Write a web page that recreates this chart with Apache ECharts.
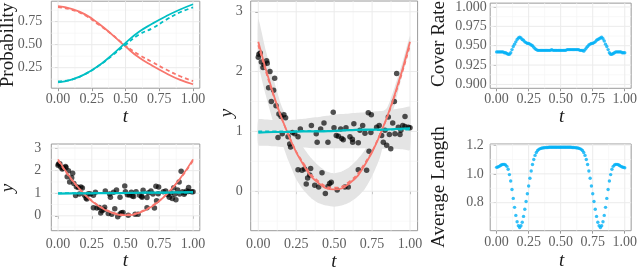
<!DOCTYPE html>
<html><head><meta charset="utf-8">
<script src="https://cdn.jsdelivr.net/npm/echarts@6/dist/echarts.min.js"></script>
<style>html,body{margin:0;padding:0;background:#fff}#c{width:640px;height:268px}</style>
</head><body><div id="c"></div>
<script>
// ---------- data ----------
const xTicks = [0, 0.25, 0.5, 0.75, 1];
const xMinor = [0.125, 0.375, 0.625, 0.875];
const probTicks = [0.25, 0.5, 0.75];
const probMinor = [0.125, 0.375, 0.625, 0.875];
const yTicks = [0, 1, 2, 3];
const yMinor = [-0.5, 0.5, 1.5, 2.5];
const coverTicks = [0.9, 0.925, 0.95, 0.975, 1.0];
const coverMinor = [0.9125, 0.9375, 0.9625, 0.9875];
const lenTicks = [0.8, 1.0, 1.2];
const lenMinor = [0.7, 0.9, 1.1];

const probT = [0, 0.1, 0.2, 0.3, 0.4, 0.5, 0.6, 0.7, 0.8, 0.9, 1.0];
const probRedSolid  = [0.92, 0.89, 0.83, 0.73, 0.61, 0.48, 0.36, 0.27, 0.19, 0.12, 0.07];
const probRedDashed = [0.91, 0.88, 0.82, 0.72, 0.61, 0.49, 0.39, 0.31, 0.23, 0.16, 0.105];
const probTealSolid = [0.09, 0.12, 0.18, 0.27, 0.39, 0.52, 0.64, 0.73, 0.81, 0.88, 0.94];
const probTealDashed= [0.10, 0.12, 0.18, 0.27, 0.38, 0.50, 0.61, 0.68, 0.77, 0.85, 0.905];

const pointsT = [0.000,0.004,0.013,0.020,0.031,0.038,0.055,0.059,0.068,0.077,0.086,0.101,0.108,0.117,0.130,0.136,0.150,0.158,0.169,0.180,
  0.196,0.207,0.213,0.225,0.240,0.262,0.277,0.262,0.288,0.305,0.316,0.325,0.339,0.345,0.350,0.372,0.382,0.388,0.398,0.411,
  0.420,0.433,0.442,0.459,0.459,0.470,0.481,0.494,0.499,0.514,0.520,0.528,0.543,0.550,0.560,0.571,0.578,0.593,0.604,0.620,
  0.622,0.630,0.659,0.659,0.670,0.688,0.703,0.714,0.725,0.730,0.745,0.742,0.780,0.797,0.813,0.824,0.835,0.846,0.857,0.864,
  0.873,0.886,0.897,0.901,0.912,0.923,0.934,0.940,0.952,0.967,0.967,0.989,1.000];
const pointsY = [2.24,2.29,2.31,2.16,2.07,2.12,2.18,2.14,1.73,2.00,1.50,1.69,1.89,1.43,0.90,1.29,1.25,0.96,1.28,1.23,
  0.91,0.79,0.74,0.98,0.96,0.91,1.04,0.36,0.35,0.37,0.12,0.22,0.27,0.38,1.10,0.10,0.96,0.82,0.07,1.04,
  0.31,1.14,-0.04,0.08,0.82,0.13,0.15,1.32,1.06,0.93,0.02,0.92,1.04,0.88,0.86,0.07,1.06,0.07,0.91,0.87,
  0.82,1.13,0.81,0.36,1.02,1.10,0.97,0.35,1.31,0.67,1.28,0.98,1.07,1.10,0.93,0.82,1.02,0.77,1.24,0.95,
  0.71,1.14,1.50,0.96,1.97,1.07,0.95,1.02,1.10,1.25,1.08,1.07,1.06];

const fitT = [0, 0.1, 0.2, 0.3, 0.4, 0.5, 0.6, 0.7, 0.8, 0.9, 1.0];
const fitRedSolid  = [2.50, 1.62, 0.93, 0.43, 0.13, 0.03, 0.13, 0.43, 0.93, 1.62, 2.50];
const fitRedDashed = [2.44, 1.60, 0.94, 0.46, 0.16, 0.06, 0.16, 0.46, 0.94, 1.60, 2.44];
const fitTealSolid = [0.98, 0.99, 0.99, 1.00, 1.00, 1.01, 1.02, 1.03, 1.03, 1.04, 1.05];
const fitTealDashed= [1.00, 1.00, 1.00, 1.01, 1.01, 1.01, 1.02, 1.02, 1.02, 1.03, 1.03];

const bandT = [0,0.05,0.1,0.15,0.2,0.25,0.3,0.35,0.4,0.45,0.5,0.55,0.6,0.65,0.7,0.75,0.8,0.85,0.9,0.95,1.0];
const bandRedLo = [2.15,1.60,1.15,0.85,0.50,0.20,0.01,-0.12,-0.20,-0.24,-0.26,-0.24,-0.19,-0.10,0.03,0.25,0.55,1.05,1.45,1.95,2.40];
const bandRedHi = [2.88,2.35,1.88,1.45,1.15,0.90,0.72,0.55,0.42,0.33,0.30,0.33,0.40,0.52,0.68,0.95,1.28,1.40,1.75,2.15,2.60];
const bandTealLo = [0.77,0.76,0.75,0.74,0.74,0.73,0.73,0.72,0.72,0.72,0.72,0.72,0.72,0.72,0.72,0.72,0.71,0.71,0.71,0.70,0.69];
const bandTealHi = [1.20,1.20,1.19,1.19,1.19,1.20,1.21,1.23,1.24,1.26,1.28,1.29,1.30,1.31,1.32,1.33,1.34,1.35,1.37,1.39,1.41];

const gridT = [0,0.01,0.02,0.03,0.04,0.05,0.06,0.07,0.08,0.09,0.1,0.11,0.12,0.13,0.14,0.15,0.16,0.17,0.18,0.19,
  0.2,0.21,0.22,0.23,0.24,0.25,0.26,0.27,0.28,0.29,0.3,0.31,0.32,0.33,0.34,0.35,0.36,0.37,0.38,0.39,
  0.4,0.41,0.42,0.43,0.44,0.45,0.46,0.47,0.48,0.49,0.5,0.51,0.52,0.53,0.54,0.55,0.56,0.57,0.58,0.59,
  0.6,0.61,0.62,0.63,0.64,0.65,0.66,0.67,0.68,0.69,0.7,0.71,0.72,0.73,0.74,0.75,0.76,0.77,0.78,0.79,
  0.8,0.81,0.82,0.83,0.84,0.85,0.86,0.87,0.88,0.89,0.9,0.91,0.92,0.93,0.94,0.95,0.96,0.97,0.98,0.99,1.0];
const coverRate = [
  0.942,0.942,0.942,0.942,0.942,0.942,0.941,0.941,0.940,0.939,
  0.939,0.941,0.945,0.949,0.952,0.955,0.958,0.960,0.961,0.960,
  0.958,0.957,0.955,0.954,0.953,0.953,0.952,0.951,0.950,0.948,
  0.946,0.945,0.944,0.944,0.944,0.944,0.944,0.944,0.944,0.944,
  0.944,0.944,0.944,0.945,0.944,0.944,0.944,0.944,0.944,0.944,
  0.944,0.944,0.944,0.944,0.944,0.945,0.945,0.945,0.945,0.945,
  0.945,0.945,0.945,0.945,0.945,0.944,0.944,0.944,0.943,0.945,
  0.947,0.949,0.951,0.952,0.953,0.953,0.954,0.955,0.957,0.958,
  0.959,0.960,0.961,0.959,0.956,0.952,0.949,0.945,0.941,0.939,
  0.939,0.940,0.941,0.942,0.942,0.942,0.942,0.942,0.941,0.941,
  0.941];
const avgLength = [
  1.045,1.048,1.052,1.058,1.063,1.066,1.066,1.062,1.052,1.032,
  0.995,0.950,0.892,0.830,0.768,0.712,0.668,0.640,0.628,0.640,
  0.665,0.705,0.755,0.808,0.862,0.916,0.970,1.020,1.065,1.100,
  1.128,1.148,1.162,1.170,1.175,1.178,1.180,1.181,1.182,1.183,
  1.183,1.184,1.184,1.184,1.184,1.184,1.184,1.184,1.184,1.184,
  1.184,1.184,1.184,1.184,1.184,1.184,1.184,1.184,1.184,1.183,
  1.183,1.182,1.181,1.180,1.178,1.175,1.170,1.162,1.148,1.128,
  1.100,1.065,1.020,0.970,0.916,0.862,0.808,0.755,0.705,0.665,
  0.640,0.628,0.640,0.668,0.712,0.768,0.830,0.892,0.950,0.995,
  1.032,1.052,1.062,1.066,1.066,1.063,1.058,1.052,1.048,1.045,
  1.042];

// ---------- styling ----------
const RED = '#F8766D', TEAL = '#00BFC4', BLUE = '#00B0F6';
const TICKCOL = '#999999';
const LABCOL = '#5f5f5f';

const grids = [
  {left: 51.3, top: 1.2, width: 148.5, height: 87},
  {left: 51.3, top: 144, width: 148.5, height: 86.7},
  {left: 250.7, top: 1, width: 166.9, height: 229.7},
  {left: 490.2, top: 1.1, width: 143, height: 87.2},
  {left: 490.2, top: 144, width: 143, height: 86.7}
].map(g => Object.assign({show: true, borderColor: '#9a9a9a', borderWidth: 1, backgroundColor: '#fff'}, g));

const yRanges = [[0.027, 0.973], [-0.66, 3.18], [-0.66, 3.18], [0.895, 1.005], [0.606, 1.207]];
const yTickSets = [probTicks, yTicks, yTicks, coverTicks, lenTicks];
const yMinorSets = [probMinor, yMinor, yMinor, coverMinor, lenMinor];
const yFmt = [v => v.toFixed(2), v => String(v), v => String(v), v => v.toFixed(3), v => v.toFixed(1)];
const yMargin = [9, 10, 8, 3.5, 6.5];
const xMargin = [4.5, 6.5, 7, 4.5, 5];
const labelStyle = {color: LABCOL, fontFamily: 'Liberation Serif', fontSize: 14};

const xAxes = [], yAxes = [];
for (let i = 0; i < 5; i++) {
  xAxes.push({
    gridIndex: i, type: 'value', min: -0.05, max: 1.05,
    axisLine: {show: false}, splitLine: {show: false},
    axisTick: {show: true, length: 3, lineStyle: {color: TICKCOL}, customValues: xTicks},
    axisLabel: Object.assign({customValues: xTicks, formatter: v => v.toFixed(2), margin: xMargin[i]}, labelStyle)
  });
  yAxes.push({
    gridIndex: i, type: 'value', min: yRanges[i][0], max: yRanges[i][1],
    axisLine: {show: false}, splitLine: {show: false},
    axisTick: {show: true, length: 3, lineStyle: {color: TICKCOL}, customValues: yTickSets[i]},
    axisLabel: Object.assign({customValues: yTickSets[i], formatter: yFmt[i], margin: yMargin[i]}, labelStyle)
  });
}

function gridLines(idx) {
  const xr = [-0.05, 1.05], yr = yRanges[idx];
  const data = [];
  xMinor.forEach(v => data.push([v, yr[0], 0, 0]));
  yMinorSets[idx].forEach(v => data.push([xr[0], v, 0, 1]));
  xTicks.forEach(v => data.push([v, yr[0], 1, 0]));
  yTickSets[idx].forEach(v => data.push([xr[0], v, 1, 1]));
  return {
    type: 'custom', xAxisIndex: idx, yAxisIndex: idx, z: 1, silent: true, animation: false,
    data,
    renderItem(params, api) {
      const cs = params.coordSys;
      const major = api.value(2) === 1;
      const horiz = api.value(3) === 1;
      const p = api.coord([api.value(0), api.value(1)]);
      const shape = horiz
        ? {x1: cs.x, y1: p[1], x2: cs.x + cs.width, y2: p[1]}
        : {x1: p[0], y1: cs.y, x2: p[0], y2: cs.y + cs.height};
      return {type: 'line', shape, style: {stroke: major ? '#EBEBEB' : '#F5F5F5', lineWidth: major ? 1 : 0.7}};
    }
  };
}

function band(idx, t, lo, hi) {
  return {
    type: 'custom', xAxisIndex: idx, yAxisIndex: idx, z: 1.5, silent: true, animation: false,
    data: [[0.5, 1]],
    renderItem(params, api) {
      const pts = [];
      for (let i = 0; i < t.length; i++) pts.push(api.coord([t[i], hi[i]]));
      for (let i = t.length - 1; i >= 0; i--) pts.push(api.coord([t[i], lo[i]]));
      return {type: 'polygon', shape: {points: pts, smooth: 0.2}, style: {fill: '#E4E4E4'}};
    }
  };
}

function lineS(idx, xs, ys, color, width, dashed, z) {
  return {
    type: 'line', xAxisIndex: idx, yAxisIndex: idx, data: xs.map((x, i) => [x, ys[i]]),
    showSymbol: false, smooth: true, z: z || 3, silent: true,
    lineStyle: {color, width, type: dashed ? [4, 3] : 'solid'}
  };
}

const series = [];
for (let i = 0; i < 5; i++) series.push(gridLines(i));

series.push(lineS(0, probT, probRedSolid, RED, 1.8, false));
series.push(lineS(0, probT, probRedDashed, RED, 1.8, true));
series.push(lineS(0, probT, probTealSolid, TEAL, 1.8, false));
series.push(lineS(0, probT, probTealDashed, TEAL, 1.8, true));

series.push(band(2, bandT, bandRedLo, bandRedHi));
series.push(band(2, bandT, bandTealLo, bandTealHi));
[1, 2].forEach(idx => {
  series.push({
    type: 'scatter', xAxisIndex: idx, yAxisIndex: idx, z: 2, silent: true,
    data: pointsT.map((t, i) => [t, pointsY[i]]),
    symbolSize: 5.5, itemStyle: {color: 'rgba(0,0,0,0.85)'}
  });
  series.push(lineS(idx, fitT, fitRedSolid, RED, 1.8, false));
  series.push(lineS(idx, fitT, fitRedDashed, RED, 1.6, true));
  series.push(lineS(idx, fitT, fitTealSolid, TEAL, 2.2, false));
  series.push(lineS(idx, fitT, fitTealDashed, TEAL, 1.8, true));
});

series.push({
  type: 'scatter', xAxisIndex: 3, yAxisIndex: 3, z: 2, silent: true,
  data: gridT.map((t, i) => [t, coverRate[i]]), symbolSize: 3.4, itemStyle: {color: BLUE}
});
series.push({
  type: 'scatter', xAxisIndex: 4, yAxisIndex: 4, z: 2, silent: true,
  data: gridT.map((t, i) => [t, avgLength[i]]), symbolSize: 3.4, itemStyle: {color: BLUE}
});

function title(text, x, y, rotated, italic) {
  return {
    type: 'text', x, y, rotation: rotated ? Math.PI / 2 : 0, silent: true, z: 10,
    style: {text, fill: '#1a1a1a', font: (italic ? 'italic ' : '') + '19px "Liberation Serif"',
      textAlign: 'center', textVerticalAlign: 'middle', align: 'center', verticalAlign: 'middle'}
  };
}

const option = {
  animation: false,
  backgroundColor: '#ffffff',
  grid: grids,
  xAxis: xAxes,
  yAxis: yAxes,
  series,
  graphic: [
    title('Probability', 8.5, 45, true, false),
    title('t', 125.5, 117, false, true),
    title('y', 7.5, 188, true, true),
    title('t', 125.5, 261, false, true),
    title('y', 226.5, 113, true, true),
    title('t', 334, 261.5, false, true),
    title('Cover Rate', 439.5, 44, true, false),
    title('t', 561.7, 117, false, true),
    title('Average Length', 439, 187, true, false),
    title('t', 561.7, 261, false, true)
  ]
};

const chart = echarts.init(document.getElementById('c'), null, {renderer: 'canvas'});
chart.setOption(option);
</script></body></html>
